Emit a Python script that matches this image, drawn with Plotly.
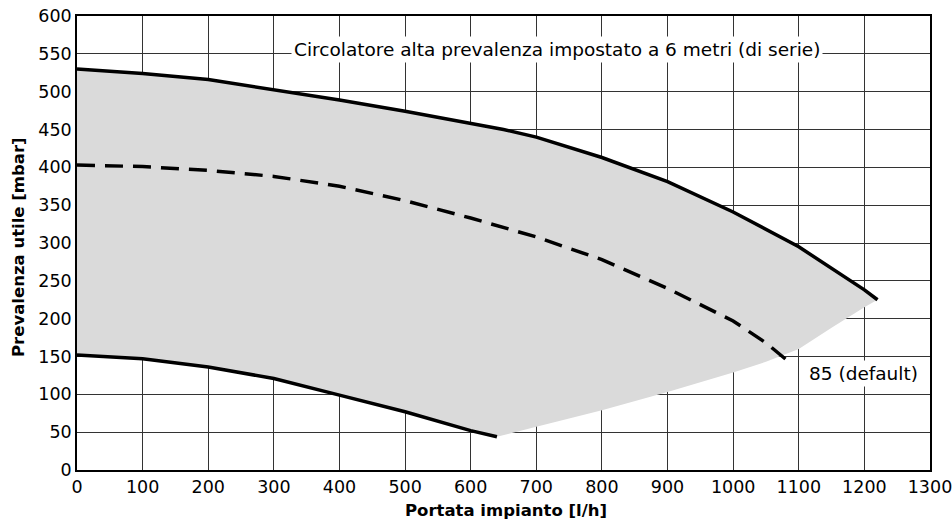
import plotly.graph_objects as go

# Upper curve (max head)
upper_x = [0, 100, 200, 300, 400, 500, 600, 650, 700, 800, 900, 1000, 1100, 1200, 1220]
upper_y = [530, 524, 516, 503, 489, 474, 458, 450, 440, 413, 381, 341, 295, 238, 225]

# Dashed curve 85 (default)
dash_x = [0, 100, 200, 300, 400, 500, 600, 700, 800, 900, 1000, 1050, 1082]
dash_y = [403, 401, 396, 388, 375, 356, 333, 308, 278, 240, 197, 168, 145]

# Lower curve (min head)
lower_x = [0, 100, 200, 300, 400, 500, 600, 640]
lower_y = [152, 147, 136, 121, 99, 77, 52, 44]

# Right/lower boundary of grey operating area
bound_x = [1220, 1200, 1150, 1100, 1050, 1000, 900, 800, 700, 640]
bound_y = [225, 215, 188, 160, 143, 129, 103, 79, 57, 44]

fill_x = upper_x + bound_x + lower_x[::-1]
fill_y = upper_y + bound_y + lower_y[::-1]

FONT = "DejaVu Sans"

fig = go.Figure()
fig.add_trace(go.Scatter(x=fill_x, y=fill_y, fill="toself", fillcolor="#dadada",
                         mode="lines", line=dict(width=0), hoverinfo="skip", showlegend=False))
fig.add_trace(go.Scatter(x=upper_x, y=upper_y, mode="lines",
                         line=dict(color="black", width=3.5), showlegend=False))
fig.add_trace(go.Scatter(x=dash_x, y=dash_y, mode="lines",
                         line=dict(color="black", width=3.5, dash="18px,10px"), showlegend=False))
fig.add_trace(go.Scatter(x=lower_x, y=lower_y, mode="lines",
                         line=dict(color="black", width=3.5), showlegend=False))

fig.add_annotation(x=731, y=556, text="Circolatore alta prevalenza impostato a 6 metri (di serie)",
                   showarrow=False, bgcolor="white", borderpad=2,
                   font=dict(family=FONT, size=18.5, color="black"))
fig.add_annotation(x=1198, y=128, text="85 (default)",
                   showarrow=False, bgcolor="white", borderpad=2,
                   font=dict(family=FONT, size=18.5, color="black"))

# Axis titles
fig.add_annotation(xref="paper", yref="paper", x=0.503, y=-40 / 454, yanchor="middle",
                   text="<b>Portata impianto [l/h]</b>", showarrow=False,
                   font=dict(family=FONT, size=16.5, color="black"))
fig.add_annotation(xref="paper", yref="paper", x=-59 / 853, y=(470 - 247) / 454,
                   xanchor="center", yanchor="middle", textangle=-90,
                   text="<b>Prevalenza utile [mbar]</b>", showarrow=False,
                   font=dict(family=FONT, size=16.5, color="black"))

axis_common = dict(showgrid=True, gridcolor="#333333", gridwidth=1,
                   showline=True, linecolor="black", linewidth=1.5, mirror=True,
                   ticks="", zeroline=False, automargin=False, ticklabeloverflow="allow",
                   tickfont=dict(family=FONT, size=17.5, color="black"))

fig.update_xaxes(range=[0, 1300], dtick=100, tick0=0, **axis_common)
fig.update_yaxes(range=[0, 600], dtick=50, tick0=0, **axis_common)

fig.update_layout(width=952, height=522, plot_bgcolor="white", paper_bgcolor="white",
                  margin=dict(l=77, r=22, t=16, b=52), showlegend=False)

fig.write_html("out.html", config={"displayModeBar": False},
               post_script="document.body.style.margin='0';")
